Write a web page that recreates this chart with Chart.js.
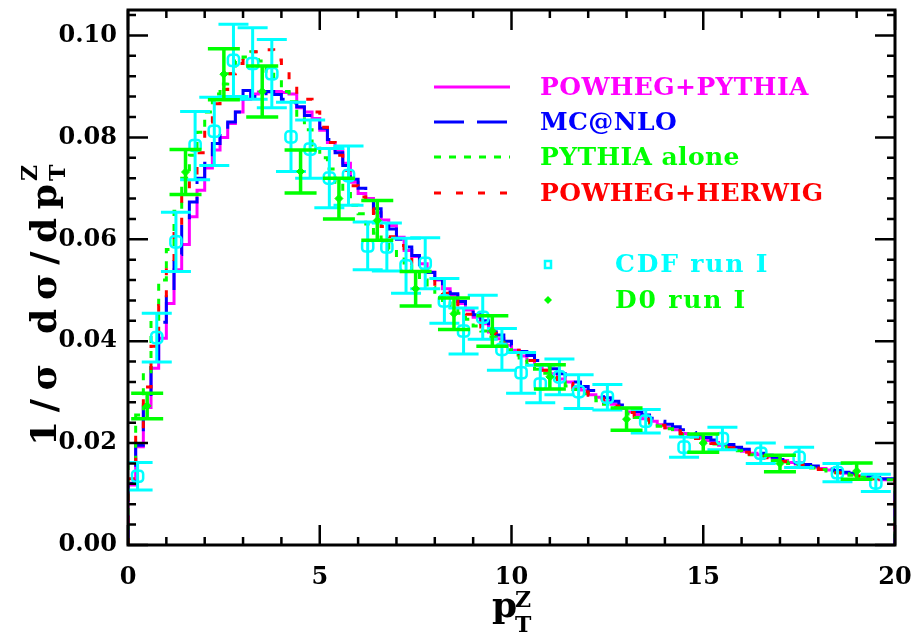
<!DOCTYPE html>
<html><head><meta charset="utf-8">
<script src="https://cdn.jsdelivr.net/npm/chart.js@4/dist/chart.umd.min.js"></script>
<style>html,body{margin:0;padding:0;background:#fff;overflow:hidden}#wrap{width:912px;height:639px}</style>
</head><body><div id="wrap"><canvas id="c" width="912" height="639"></canvas></div>
<script>
// ---- data ----
const binWidth = 0.2; // histogram bins of 0.2 GeV from 0 to 20
const powhegPythia = [0.0050,0.0118,0.0193,0.0270,0.0347,0.0406,0.0474,0.0540,0.0590,0.0644,
 0.0696,0.0740,0.0775,0.0800,0.0827,0.0850,0.0875,0.0885,0.0889,0.0889,
 0.0890,0.0888,0.0885,0.0858,0.0850,0.0837,0.0814,0.0790,0.0775,0.0749,
 0.0712,0.0690,0.0680,0.0652,0.0638,0.0627,0.0604,0.0578,0.0566,0.0552,
 0.0536,0.0520,0.0503,0.0490,0.0474,0.0461,0.0447,0.0434,0.0418,0.0405,
 0.0392,0.0382,0.0371,0.0362,0.0353,0.0343,0.0336,0.0326,0.0320,0.0311,
 0.0304,0.0295,0.0290,0.0282,0.0276,0.0268,0.0261,0.0256,0.0248,0.0243,
 0.0236,0.0230,0.0226,0.0219,0.0215,0.0210,0.0205,0.0201,0.0196,0.0193,
 0.0188,0.0184,0.0180,0.0177,0.0173,0.0170,0.0166,0.0162,0.0159,0.0156,
 0.0153,0.0150,0.0147,0.0144,0.0141,0.0139,0.0136,0.0133,0.0131,0.0128];
const mcAtNlo = [0.0045,0.0121,0.0196,0.0271,0.0363,0.0437,0.0500,0.0570,0.0630,0.0673,
 0.0720,0.0749,0.0788,0.0817,0.0830,0.0850,0.0892,0.0880,0.0878,0.0890,
 0.0884,0.0875,0.0868,0.0860,0.0843,0.0835,0.0818,0.0796,0.0770,0.0745,
 0.0718,0.0700,0.0676,0.0660,0.0642,0.0620,0.0600,0.0585,0.0568,0.0550,
 0.0535,0.0522,0.0506,0.0493,0.0478,0.0466,0.0452,0.0440,0.0425,0.0412,
 0.0400,0.0392,0.0380,0.0372,0.0362,0.0352,0.0346,0.0336,0.0328,0.0320,
 0.0311,0.0303,0.0296,0.0289,0.0282,0.0275,0.0268,0.0262,0.0255,0.0249,
 0.0243,0.0237,0.0232,0.0226,0.0221,0.0216,0.0211,0.0206,0.0201,0.0197,
 0.0192,0.0188,0.0184,0.0180,0.0176,0.0172,0.0168,0.0165,0.0161,0.0158,
 0.0155,0.0152,0.0149,0.0146,0.0143,0.0141,0.0138,0.0135,0.0133,0.0130];
const pythiaAlone = [0.0060,0.0160,0.0255,0.0340,0.0440,0.0520,0.0580,0.0655,0.0720,0.0765,
 0.0810,0.0850,0.0885,0.0905,0.0925,0.0950,0.0958,0.0968,0.0950,0.0930,
 0.0915,0.0890,0.0870,0.0840,0.0815,0.0785,0.0760,0.0738,0.0712,0.0690,
 0.0667,0.0650,0.0630,0.0612,0.0598,0.0580,0.0565,0.0548,0.0535,0.0520,
 0.0506,0.0492,0.0480,0.0466,0.0455,0.0443,0.0430,0.0420,0.0408,0.0398,
 0.0383,0.0373,0.0363,0.0354,0.0345,0.0337,0.0328,0.0320,0.0312,0.0305,
 0.0297,0.0290,0.0283,0.0276,0.0270,0.0263,0.0257,0.0250,0.0245,0.0239,
 0.0233,0.0228,0.0222,0.0217,0.0212,0.0207,0.0202,0.0198,0.0193,0.0189,
 0.0185,0.0181,0.0177,0.0174,0.0170,0.0166,0.0163,0.0160,0.0157,0.0154,
 0.0151,0.0148,0.0145,0.0142,0.0140,0.0137,0.0135,0.0132,0.0130,0.0128];
const powhegHerwig = [0.0050,0.0130,0.0220,0.0310,0.0390,0.0470,0.0550,0.0620,0.0690,0.0730,
 0.0770,0.0830,0.0866,0.0894,0.0925,0.0945,0.0958,0.0968,0.0975,0.0972,
 0.0952,0.0930,0.0905,0.0885,0.0875,0.0850,0.0820,0.0790,0.0765,0.0735,
 0.0705,0.0683,0.0660,0.0642,0.0625,0.0605,0.0588,0.0568,0.0552,0.0538,
 0.0522,0.0508,0.0494,0.0480,0.0466,0.0453,0.0440,0.0428,0.0415,0.0404,
 0.0393,0.0382,0.0372,0.0362,0.0352,0.0343,0.0334,0.0325,0.0317,0.0309,
 0.0301,0.0294,0.0287,0.0280,0.0273,0.0266,0.0260,0.0253,0.0247,0.0241,
 0.0235,0.0230,0.0224,0.0219,0.0214,0.0209,0.0204,0.0199,0.0195,0.0191,
 0.0186,0.0182,0.0178,0.0175,0.0171,0.0167,0.0164,0.0160,0.0157,0.0154,
 0.0151,0.0148,0.0145,0.0142,0.0140,0.0137,0.0135,0.0132,0.0130,0.0127];

const cdfX = [0.25,0.75,1.25,1.75,2.25,2.75,3.25,3.75,4.25,4.75,5.25,5.75,6.25,6.75,7.25,7.75,8.25,8.75,9.25,9.75,10.25,10.75,11.25,11.75,12.5,13.5,14.5,15.5,16.5,17.5,18.5,19.5];
const cdfY = [0.0135,0.0407,0.0595,0.0784,0.0812,0.0951,0.0945,0.0925,0.0801,0.0777,0.0720,0.0725,0.0587,0.0585,0.0548,0.0553,0.0479,0.0420,0.0447,0.0384,0.0338,0.0316,0.0330,0.0301,0.0290,0.0243,0.0192,0.0209,0.0180,0.0172,0.0142,0.0122];
const cdfErr = [0.0027,0.0048,0.0058,0.0067,0.0067,0.0071,0.0070,0.0067,0.0068,0.0057,0.0058,0.0058,0.0047,0.0047,0.0054,0.0050,0.0044,0.0045,0.0043,0.0041,0.0040,0.0037,0.0035,0.0033,0.0025,0.0023,0.0020,0.0022,0.0020,0.0020,0.0018,0.0017];

const d0X = [0.5,1.5,2.5,3.5,4.5,5.5,6.5,7.5,8.5,9.5,11,13,15,17,19];
const d0Y = [0.0273,0.0732,0.0924,0.0890,0.0733,0.0680,0.0637,0.0503,0.0454,0.0420,0.0330,0.0247,0.0200,0.0160,0.0145];
const d0Err = [0.0025,0.0044,0.0050,0.0050,0.0042,0.0040,0.0039,0.0034,0.0031,0.0030,0.0024,0.0022,0.0018,0.0016,0.0016];

const xTicks = [0,5,10,15,20];
const yTicks = [0.00,0.02,0.04,0.06,0.08,0.10];
const seriesLabels = ['POWHEG+PYTHIA','MC@NLO','PYTHIA alone','POWHEG+HERWIG'];
const dataLabels = ['CDF run I','D0 run I'];

// ---- styles ----
const C_MAG = '#ff00ff', C_BLU = '#0000ff', C_GRN = '#00ff00', C_RED = '#ff0000', C_CYN = '#00ffff';
const DASH = { mag: [], blu: [30,13], grn: [7,8], red: [7,15] };
const SERIF = '"DejaVu Serif", "Liberation Serif", serif';

function histPoints(vals){
  const pts = [{x:0, y:0}];
  vals.forEach((v,i)=>pts.push({x: Math.round(i*binWidth*10)/10, y: v}));
  pts.push({x: Math.round(vals.length*binWidth*10)/10, y: vals[vals.length-1]});
  pts.push({x: Math.round(vals.length*binWidth*10)/10, y: 0});
  return pts;
}
function histDs(label, vals, color, dash, order){
  return {type:'line', label, data: histPoints(vals), borderColor: color, backgroundColor: color,
    borderWidth: 3, borderDash: dash, stepped: 'after', pointRadius: 0, fill: false, order, tension: 0};
}

function drawSpaced(ctx, text, x, y, spacing){
  let cx = x;
  for (const ch of text){ ctx.fillText(ch, cx, y); cx += ctx.measureText(ch).width + spacing; }
  return cx - spacing;
}

function noOverflowPadding(s){ s.paddingLeft = 0; s.paddingRight = 0; s.paddingTop = 0; s.paddingBottom = 0; }

const overlay = {
  id: 'overlay',
  beforeDatasetDraw(chart, args){
    const ds = chart.data.datasets[args.index];
    if (!ds.errs) return;
    const {ctx, chartArea: a, scales: {x, y}} = chart;
    ctx.save();
    ctx.beginPath(); ctx.rect(a.left, a.top, a.right - a.left, a.bottom - a.top); ctx.clip();
    ctx.strokeStyle = ds.borderColor; ctx.lineWidth = ds.errWidth; ctx.setLineDash([]);
    ds.data.forEach((p, i) => {
      const px = x.getPixelForValue(p.x);
      const yt = y.getPixelForValue(p.y + ds.errs[i]);
      const yb = y.getPixelForValue(p.y - ds.errs[i]);
      ctx.beginPath();
      ctx.moveTo(px, yt); ctx.lineTo(px, yb);
      ctx.moveTo(px - ds.capHalf, yt); ctx.lineTo(px + ds.capHalf, yt);
      ctx.moveTo(px - ds.capHalf, yb); ctx.lineTo(px + ds.capHalf, yb);
      ctx.stroke();
    });
    ctx.restore();
  },
  afterDraw(chart){
    const {ctx, chartArea: a, scales: {x, y}} = chart;
    ctx.save();
    // frame
    ctx.strokeStyle = '#000'; ctx.lineWidth = 3; ctx.setLineDash([]);
    ctx.strokeRect(a.left, a.top, a.right - a.left, a.bottom - a.top);
    // inward ticks
    ctx.lineWidth = 2.5;
    ctx.beginPath();
    for (let k = 0; k <= 26; k++){
      const py = y.getPixelForValue(k * 0.004);
      if (py < a.top + 1) continue;
      const len = (k % 5 === 0) ? 20 : 8;
      ctx.moveTo(a.left, py); ctx.lineTo(a.left + len, py);
      ctx.moveTo(a.right, py); ctx.lineTo(a.right - len, py);
    }
    for (let k = 0; k <= 20; k++){
      const px = x.getPixelForValue(k);
      const len = (k % 5 === 0) ? 20 : 8;
      ctx.moveTo(px, a.bottom); ctx.lineTo(px, a.bottom - len);
      ctx.moveTo(px, a.top); ctx.lineTo(px, a.top + len);
    }
    ctx.stroke();

    // legend
    const rowsY = [87, 122, 157, 193];
    const cols = [C_MAG, C_BLU, C_GRN, C_RED];
    const dashes = [DASH.mag, DASH.blu, DASH.grn, DASH.red];
    ctx.font = 'bold 25px ' + SERIF;
    ctx.textBaseline = 'middle'; ctx.textAlign = 'left';
    seriesLabels.forEach((lab, i) => {
      ctx.strokeStyle = cols[i]; ctx.lineWidth = 3; ctx.setLineDash(dashes[i]);
      ctx.beginPath(); ctx.moveTo(434, rowsY[i]); ctx.lineTo(510, rowsY[i]); ctx.stroke();
      ctx.fillStyle = cols[i];
      drawSpaced(ctx, lab, 540, rowsY[i] + 1, 0.4);
    });
    ctx.setLineDash([]);
    // CDF marker
    ctx.strokeStyle = C_CYN; ctx.lineWidth = 2.5;
    ctx.strokeRect(545, 261, 6, 7);
    ctx.fillStyle = C_CYN;
    drawSpaced(ctx, dataLabels[0], 615, 265, 1.8);
    // D0 marker
    ctx.fillStyle = C_GRN;
    ctx.beginPath(); ctx.moveTo(548, 296); ctx.lineTo(552, 300); ctx.lineTo(548, 304); ctx.lineTo(544, 300); ctx.closePath(); ctx.fill();
    drawSpaced(ctx, dataLabels[1], 615, 301, 1.8);

    // y title
    ctx.fillStyle = '#000';
    ctx.save();
    ctx.translate(56, 446);
    ctx.rotate(-Math.PI / 2);
    ctx.textBaseline = 'alphabetic';
    ctx.font = 'bold 36px ' + SERIF;
    const main = '1/σ dσ/dp';
    let w0 = 0; for (const ch of main) w0 += ctx.measureText(ch).width;
    const sp = (262 - w0) / (main.length - 1);
    const xe = drawSpaced(ctx, main, 0, 0, sp);
    ctx.font = 'bold 22px ' + SERIF;
    ctx.fillText('T', xe + 3, 9);
    ctx.fillText('Z', xe + 3, -19);
    ctx.restore();

    // x title
    ctx.textBaseline = 'alphabetic';
    ctx.font = 'bold 36px ' + SERIF;
    ctx.fillText('p', 492, 617);
    ctx.font = 'bold 22px ' + SERIF;
    ctx.fillText('Z', 515, 607);
    ctx.fillText('T', 515, 632);
    ctx.restore();
  }
};

new Chart(document.getElementById('c'), {
  type: 'scatter',
  data: {
    datasets: [
      histDs(seriesLabels[0], powhegPythia, C_MAG, DASH.mag, 8),
      histDs(seriesLabels[1], mcAtNlo, C_BLU, DASH.blu, 7),
      histDs(seriesLabels[2], pythiaAlone, C_GRN, DASH.grn, 6),
      histDs(seriesLabels[3], powhegHerwig, C_RED, DASH.red, 5),
      {type:'scatter', label: dataLabels[0], data: cdfX.map((v,i)=>({x:v, y:cdfY[i]})), errs: cdfErr,
       errWidth: 3, capHalf: 15, borderColor: C_CYN, backgroundColor: 'rgba(0,0,0,0)',
       pointStyle: 'rectRounded', pointRadius: 6.5, pointBorderWidth: 2.5, order: 2},
      {type:'scatter', label: dataLabels[1], data: d0X.map((v,i)=>({x:v, y:d0Y[i]})), errs: d0Err,
       errWidth: 3.5, capHalf: 16, borderColor: C_GRN, backgroundColor: C_GRN,
       pointStyle: 'rectRot', pointRadius: 4, pointBorderWidth: 1, order: 1}
    ]
  },
  options: {
    responsive: false, animation: false, devicePixelRatio: 1,
    layout: {padding: {left: 0, right: 17, top: 10, bottom: 0}},
    plugins: {legend: {display: false}, tooltip: {enabled: false}},
    events: [],
    scales: {
      x: {type: 'linear', min: 0, max: 20,
          grid: {display: false, drawTicks: false}, border: {display: false},
          afterBuildTicks: s => { s.ticks = xTicks.map(v => ({value: v})); },
          afterFit: s => { s.height = 94; noOverflowPadding(s); },
          ticks: {color: '#000', font: {family: SERIF, size: 24, weight: 'bold'}, padding: 18, maxRotation: 0,
                  callback: v => String(v)}},
      y: {type: 'linear', min: 0, max: 0.105,
          grid: {display: false, drawTicks: false}, border: {display: false},
          afterBuildTicks: s => { s.ticks = yTicks.map(v => ({value: v})); },
          afterFit: s => { s.width = 128; noOverflowPadding(s); },
          ticks: {color: '#000', font: {family: SERIF, size: 24, weight: 'bold'}, padding: 11,
                  callback: v => v.toFixed(2)}}
    }
  },
  plugins: [overlay]
});
</script></body></html>
